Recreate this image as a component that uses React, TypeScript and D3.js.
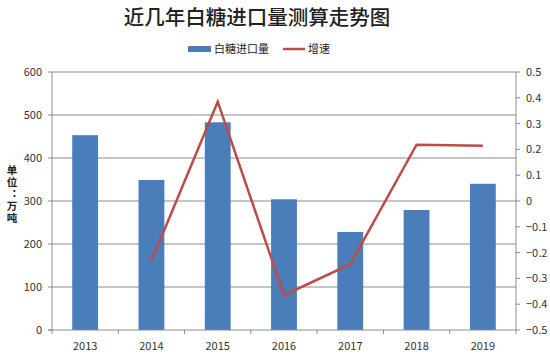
import React from "react";
import * as d3 from "d3";

const years = ["2013", "2014", "2015", "2016", "2017", "2018", "2019"];
const imports = [453, 349, 483, 304, 228, 279, 340];
const growthYears = ["2014", "2015", "2016", "2017", "2018", "2019"];
const growth = [-0.232, 0.385, -0.365, -0.245, 0.218, 0.214];
const leftTicks = [0, 100, 200, 300, 400, 500, 600];
const rightTicks = [-0.5, -0.4, -0.3, -0.2, -0.1, 0, 0.1, 0.2, 0.3, 0.4, 0.5];
const title = "近几年白糖进口量测算走势图";
const legendBar = "白糖进口量";
const legendLine = "增速";
const unitLabel = "单位：万吨";

const W = 550, H = 356;
const L = 52, R = 516, T = 72, B = 330;
const font = "'Noto Sans CJK SC', 'Noto Sans', sans-serif";
const grid = "#8c8c8c";

export default function App() {
  const x = d3.scaleBand<string>().domain(years).range([L, R]);
  const yL = d3.scaleLinear().domain([0, 600]).range([B, T]);
  const yR = d3.scaleLinear().domain([-0.5, 0.5]).range([B, T]);
  const bw = x.bandwidth() * 0.39;
  const line = d3
    .line<number>()
    .x((_, i) => (x(growthYears[i]) as number) + x.bandwidth() / 2)
    .y((d) => yR(d));
  const fmtR = (v: number) => (v === 0 ? "0" : d3.format(".1f")(v));

  return (
    <svg
      width={W}
      height={H}
      style={{ position: "absolute", left: 0, top: 0, background: "#fff" }}
      fontFamily={font}
    >
      <rect width={W} height={H} fill="#fff" />
      <text x={257} y={25} textAnchor="middle" fontSize={20.5} fontWeight={500} fill="#222">
        {title}
      </text>
      {/* legend */}
      <rect x={188} y={46} width={23} height={6} fill="#4a7ebb" />
      <text x={214} y={53} fontSize={11} fill="#222">{legendBar}</text>
      <line x1={283} x2={305} y1={49} y2={49} stroke="#be4b48" strokeWidth={2.5} />
      <text x={308} y={53} fontSize={11} fill="#222">{legendLine}</text>

      {/* gridlines */}
      {leftTicks.slice(1).map((t) => (
        <line key={t} x1={L} x2={R} y1={yL(t)} y2={yL(t)} stroke={grid} strokeWidth={1} />
      ))}

      {/* bars */}
      {years.map((yr, i) => (
        <rect
          key={yr}
          x={(x(yr) as number) + (x.bandwidth() - bw) / 2}
          y={yL(imports[i])}
          width={bw}
          height={B - yL(imports[i])}
          fill="#4a7ebb"
        />
      ))}

      {/* line */}
      <path d={line(growth) || ""} fill="none" stroke="#be4b48" strokeWidth={2.5} strokeLinejoin="miter" />

      {/* axes */}
      <line x1={L} x2={L} y1={T} y2={B} stroke={grid} />
      <line x1={R} x2={R} y1={T} y2={B} stroke={grid} />
      <line x1={L - 4} x2={R} y1={B} y2={B} stroke={grid} />
      {leftTicks.map((t) => (
        <g key={t}>
          <line x1={L - 4} x2={L} y1={yL(t)} y2={yL(t)} stroke={grid} />
          <text x={L - 10} y={yL(t) + 4} textAnchor="end" fontSize={11} fill="#333">
            {t}
          </text>
        </g>
      ))}
      {rightTicks.map((t) => (
        <g key={t}>
          <line x1={R} x2={R + 4} y1={yR(t)} y2={yR(t)} stroke={grid} />
          <text x={R + 10} y={yR(t) + 4} fontSize={11} fill="#333">
            {fmtR(t)}
          </text>
        </g>
      ))}
      {years.map((yr) => (
        <g key={yr}>
          <line x1={x(yr) as number} x2={x(yr) as number} y1={B} y2={B + 4} stroke={grid} />
          <text
            x={(x(yr) as number) + x.bandwidth() / 2}
            y={350}
            textAnchor="middle"
            fontSize={11}
            fill="#333"
          >
            {yr}
          </text>
        </g>
      ))}
      <line x1={R} x2={R} y1={B} y2={B + 4} stroke={grid} />

      {/* unit label */}
      <text
        x={12}
        y={165}
        fontSize={10.5}
        fontWeight="bold"
        fill="#222"
        letterSpacing={1.5}
        style={{ writingMode: "vertical-rl" as any, textOrientation: "upright" as any }}
      >
        {unitLabel}
      </text>
    </svg>
  );
}
